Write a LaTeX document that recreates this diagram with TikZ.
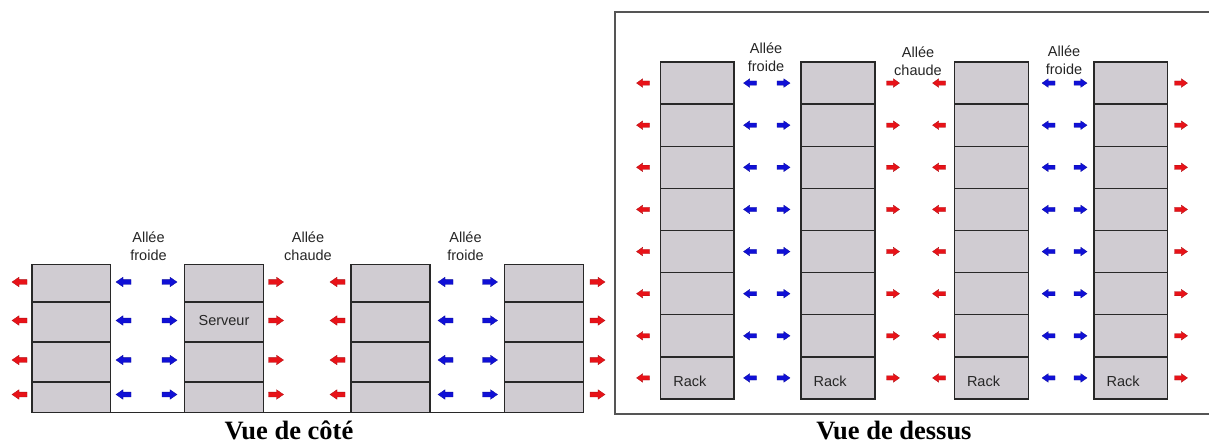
\documentclass[tikz,border=0pt]{standalone}
\usepackage{fontspec}
\setmainfont{Liberation Serif}
\newfontfamily\labfont{Liberation Sans}
\definecolor{rackfill}{RGB}{208,204,210}
\definecolor{rackline}{RGB}{40,40,40}
\definecolor{hotred}{RGB}{232,18,24}
\definecolor{coldblue}{RGB}{16,16,214}
\definecolor{framegray}{RGB}{85,85,85}
\tikzset{
  rackbox/.style={draw=rackline, fill=rackfill, line width=1.3pt, rectangle, inner sep=0pt, outer sep=0pt},
  divider/.style={draw=rackline, line width=1.3pt},
  hot/.style={fill=hotred, draw=hotred!75!black, line width=0.3pt},
  cold/.style={fill=coldblue, draw=coldblue!75!black, line width=0.3pt},
  barrow/.pic={\path[#1] (-7.5,-2.4)--(0.5,-2.4)--(0.5,-4.8)--(7.5,0)--(0.5,4.8)--(0.5,2.4)--(-7.5,2.4)--cycle;},
  sarrow/.pic={\path[#1] (-6.5,-2.1)--(0.3,-2.1)--(0.3,-4.3)--(6.5,0)--(0.3,4.3)--(0.3,2.1)--(-6.5,2.1)--cycle;},
  aisle/.style={font=\labfont\fontsize{14.5}{18}\selectfont, align=center, inner sep=0pt, text=black!85},
  rlabel/.style={font=\labfont\fontsize{14.5}{18}\selectfont, inner sep=0pt, text=black!85},
  title/.style={font=\bfseries\fontsize{26.5}{30}\selectfont, inner sep=0pt, anchor=base},
  frameline/.style={draw=framegray, line width=2pt}
}
\begin{document}
\begin{tikzpicture}[x=1pt,y=-1pt]
\useasboundingbox[fill=white] (0,0) rectangle (1209,444);

% ---------- side view ----------
\coordinate (floorL) at (32,412.5);
\coordinate (floorR) at (583.3,412.5);
\draw[divider] (floorL) -- (floorR);
\node[rackbox, minimum width=78.5pt, minimum height=148pt] (sA) at (71.25,338.5) {};
\node[rackbox, minimum width=78.8pt, minimum height=148pt] (sB) at (223.9,338.5) {};
\node[rackbox, minimum width=79pt, minimum height=148pt] (sC) at (390.5,338.5) {};
\node[rackbox, minimum width=79pt, minimum height=148pt] (sD) at (543.8,338.5) {};
\foreach \r in {sA,sB,sC,sD}{
  \foreach \yy in {302,342,382}{
    \draw[divider] (\r.west |- 0,\yy) -- (\r.east |- 0,\yy);
  }
}
\foreach \y in {282,320.5,360,394.5}{
  \pic[rotate=180] at (19.5,\y) {barrow=hot};
  \pic[rotate=180] at (123.5,\y) {barrow=cold};
  \pic at (169.5,\y) {barrow=cold};
  \pic at (276,\y) {barrow=hot};
  \pic[rotate=180] at (337.5,\y) {barrow=hot};
  \pic[rotate=180] at (445.5,\y) {barrow=cold};
  \pic at (490,\y) {barrow=cold};
  \pic at (597.5,\y) {barrow=hot};
}
\node[rlabel] (serveur) at (224,321) {Serveur};
\node[aisle] (sf1) at (148.5,246.5) {Allée\\froide};
\node[aisle] (sch) at (308,246.5) {Allée\\chaude};
\node[aisle] (sf2) at (465.5,246.5) {Allée\\froide};
\node[title] (vcote) at (289,439) {Vue de côté};

% ---------- top view ----------
\coordinate (frTR) at (1212,11.7);
\coordinate (frTL) at (615,11.7);
\coordinate (frBL) at (615,414.3);
\coordinate (frBR) at (1212,414.3);
\draw[frameline] (frTR) -- (frTL) -- (frBL) -- (frBR);
\node[rackbox, minimum width=73.3pt, minimum height=337pt] (tA) at (697.35,230.5) {};
\node[rackbox, minimum width=74pt, minimum height=337pt] (tB) at (838,230.5) {};
\node[rackbox, minimum width=74pt, minimum height=337pt] (tC) at (991.3,230.5) {};
\node[rackbox, minimum width=73.7pt, minimum height=337pt] (tD) at (1130.85,230.5) {};
\foreach \r in {tA,tB,tC,tD}{
  \foreach \k in {1,...,7}{
    \draw[divider] (\r.west |- 0,62+42.125*\k) -- (\r.east |- 0,62+42.125*\k);
  }
}
\foreach \k in {0,...,7}{
  \pgfmathsetmacro\yy{62+42.125*(\k+0.5)}
  \pic[rotate=180] at (643,\yy) {sarrow=hot};
  \pic[rotate=180] at (750,\yy) {sarrow=cold};
  \pic at (783.5,\yy) {sarrow=cold};
  \pic at (893,\yy) {sarrow=hot};
  \pic[rotate=180] at (939,\yy) {sarrow=hot};
  \pic[rotate=180] at (1048.5,\yy) {sarrow=cold};
  \pic at (1080.5,\yy) {sarrow=cold};
  \pic at (1181,\yy) {sarrow=hot};
}
\foreach \r in {tA,tB,tC,tD}{
  \node[rlabel, anchor=west] (\r lab) at ([xshift=12.5pt]\r.west |- 0,381.5) {Rack};
}
\node[aisle] (tf1) at (766,57) {Allée\\froide};
\node[aisle] (tch) at (918,61) {Allée\\chaude};
\node[aisle] (tf2) at (1064,60) {Allée\\froide};
\node[title] (vdessus) at (894,439) {Vue de dessus};
\end{tikzpicture}
\end{document}
